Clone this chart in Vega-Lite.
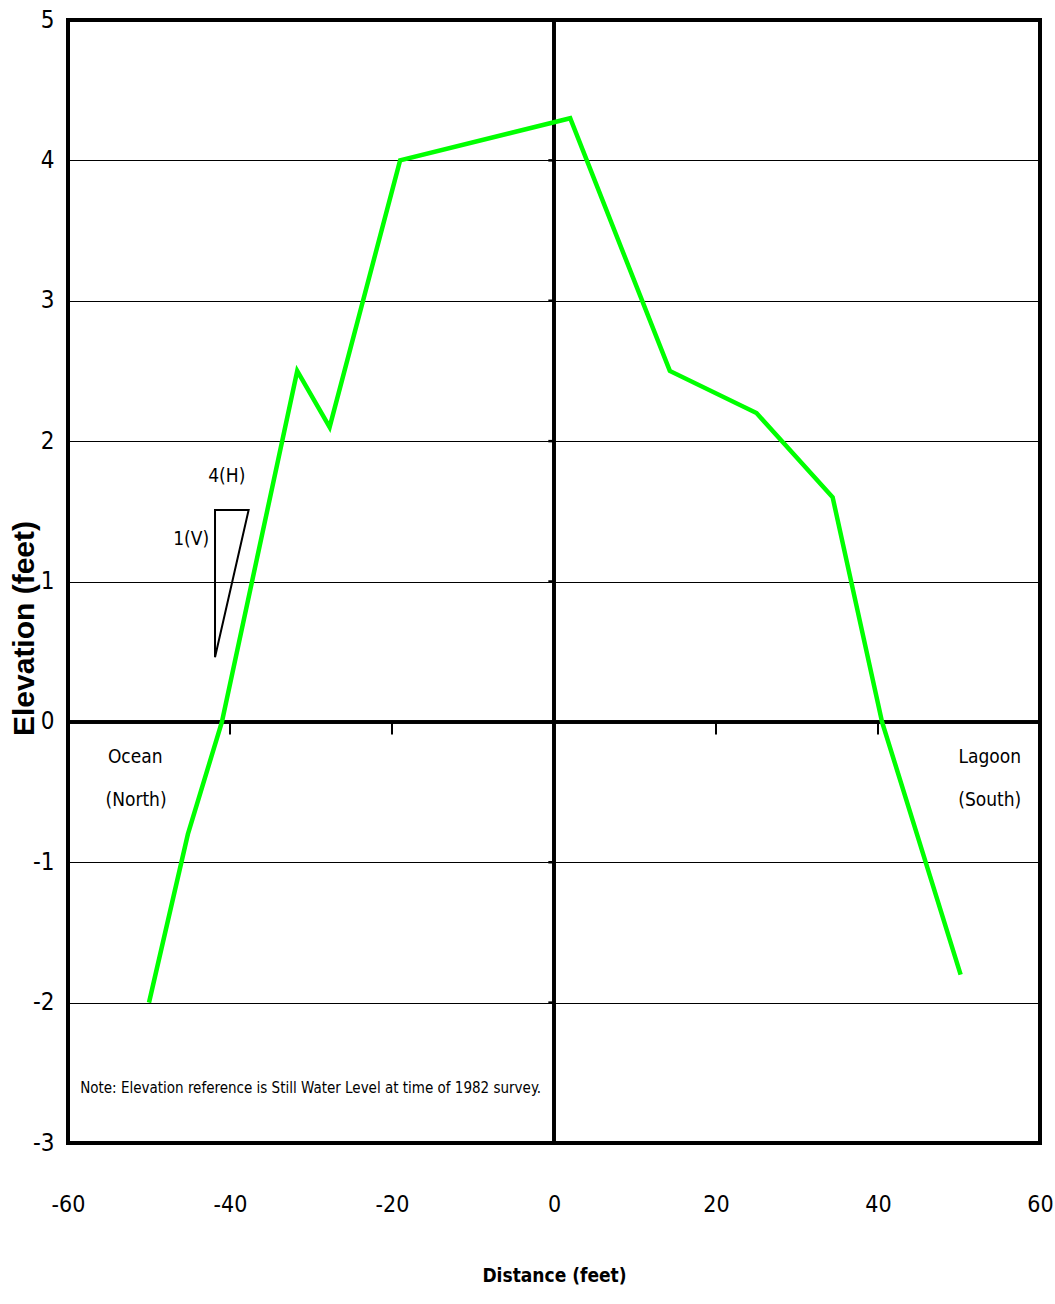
{
  "$schema": "https://vega.github.io/schema/vega-lite/v6.json",
  "autosize": {"type": "none"},
  "padding": {"left": 68, "top": 20, "right": 15, "bottom": 161},
  "width": 972,
  "height": 1123,
  "background": "white",
  "config": {
    "view": {"stroke": "black", "strokeWidth": 4},
    "font": "DejaVu Sans Condensed, Liberation Sans, sans-serif"
  },
  "datasets": {
    "profile": [
      {"distance": -50, "elevation": -2.0},
      {"distance": -45.2, "elevation": -0.8},
      {"distance": -41, "elevation": 0.0},
      {"distance": -31.7, "elevation": 2.5},
      {"distance": -27.7, "elevation": 2.1},
      {"distance": -19, "elevation": 4.0},
      {"distance": 2, "elevation": 4.3},
      {"distance": 14.3, "elevation": 2.5},
      {"distance": 25, "elevation": 2.2},
      {"distance": 34.4, "elevation": 1.6},
      {"distance": 40.5, "elevation": 0.0},
      {"distance": 50.2, "elevation": -1.8}
    ],
    "triangle": [
      {"order": 1, "distance": -41.85, "elevation": 0.46},
      {"order": 2, "distance": -41.85, "elevation": 1.51},
      {"order": 3, "distance": -37.7, "elevation": 1.51},
      {"order": 4, "distance": -41.85, "elevation": 0.46}
    ],
    "xticks": [{"distance": -40}, {"distance": -20}, {"distance": 20}, {"distance": 40}],
    "yticks": [
      {"elevation": -3}, {"elevation": -2}, {"elevation": -1}, {"elevation": 1},
      {"elevation": 2}, {"elevation": 3}, {"elevation": 4}, {"elevation": 5}
    ],
    "labels": [
      {"distance": -40.4, "elevation": 1.75, "label": "4(H)"},
      {"distance": -44.8, "elevation": 1.30, "label": "1(V)"},
      {"distance": -51.7, "elevation": -0.25, "label": "Ocean"},
      {"distance": -51.6, "elevation": -0.555, "label": "(North)"},
      {"distance": 53.8, "elevation": -0.25, "label": "Lagoon"},
      {"distance": 53.8, "elevation": -0.555, "label": "(South)"}
    ],
    "note": [
      {"distance": -58.5, "elevation": -2.61, "label": "Note:  Elevation reference is Still Water Level at time of 1982 survey."}
    ]
  },
  "layer": [
    {
      "data": {"name": "profile"},
      "mark": {"type": "rule", "color": "black", "strokeWidth": 2.5},
      "encoding": {"x": {"datum": 0, "type": "quantitative"}}
    },
    {
      "data": {"name": "profile"},
      "mark": {"type": "rule", "color": "black", "strokeWidth": 2.5},
      "encoding": {"y": {"datum": 0, "type": "quantitative"}}
    },
    {
      "data": {"name": "xticks"},
      "mark": {"type": "rule", "color": "black", "strokeWidth": 2},
      "encoding": {
        "x": {"field": "distance", "type": "quantitative"},
        "y": {"datum": 0},
        "y2": {"datum": -0.09}
      }
    },
    {
      "data": {"name": "yticks"},
      "mark": {"type": "rule", "color": "black", "strokeWidth": 2.5},
      "encoding": {
        "y": {"field": "elevation", "type": "quantitative"},
        "x": {"datum": -0.7},
        "x2": {"datum": 0}
      }
    },
    {
      "data": {"name": "triangle"},
      "mark": {"type": "line", "color": "black", "strokeWidth": 2},
      "encoding": {
        "x": {"field": "distance", "type": "quantitative"},
        "y": {"field": "elevation", "type": "quantitative"},
        "order": {"field": "order"}
      }
    },
    {
      "data": {"name": "profile"},
      "mark": {"type": "line", "color": "#00FF00", "strokeWidth": 4.5},
      "encoding": {
        "x": {
          "field": "distance", "type": "quantitative",
          "scale": {"domain": [-60, 60], "nice": false, "zero": false},
          "axis": {
            "title": "Distance (feet)",
            "values": [-60, -40, -20, 0, 20, 40, 60],
            "labelExpr": "'' + datum.value",
            "labelFlush": false, "labelBound": false, "labelOverlap": false,
            "grid": false, "ticks": false, "domain": false,
            "labelFontSize": 23, "labelColor": "black", "labelPadding": 50,
            "titleFontSize": 19, "titleFontWeight": "bold", "titleColor": "black",
            "titlePadding": 50
          }
        },
        "y": {
          "field": "elevation", "type": "quantitative",
          "scale": {"domain": [-3, 5], "nice": false, "zero": false},
          "axis": {
            "title": "Elevation (feet)",
            "values": [-3, -2, -1, 0, 1, 2, 3, 4, 5],
            "labelExpr": "'' + datum.value",
            "labelFlush": false, "labelBound": false, "labelOverlap": false,
            "grid": true, "gridColor": "black", "gridOpacity": 1, "gridWidth": 1,
            "ticks": false, "domain": false,
            "labelFontSize": 24, "labelColor": "black", "labelPadding": 14,
            "titleFont": "Liberation Sans", "titleFontSize": 30, "titleFontWeight": "bold",
            "titleColor": "black", "titleAngle": 270, "titleAlign": "center",
            "titleBaseline": "alphabetic", "titleX": -35, "titleY": 608
          }
        },
        "order": {"field": "distance"}
      }
    },
    {
      "data": {"name": "labels"},
      "mark": {"type": "text", "fontSize": 19, "align": "center", "baseline": "middle", "color": "black"},
      "encoding": {
        "x": {"field": "distance", "type": "quantitative"},
        "y": {"field": "elevation", "type": "quantitative"},
        "text": {"field": "label"}
      }
    },
    {
      "data": {"name": "note"},
      "mark": {"type": "text", "fontSize": 15, "align": "left", "baseline": "middle", "color": "black"},
      "encoding": {
        "x": {"field": "distance", "type": "quantitative"},
        "y": {"field": "elevation", "type": "quantitative"},
        "text": {"field": "label"}
      }
    }
  ]
}
